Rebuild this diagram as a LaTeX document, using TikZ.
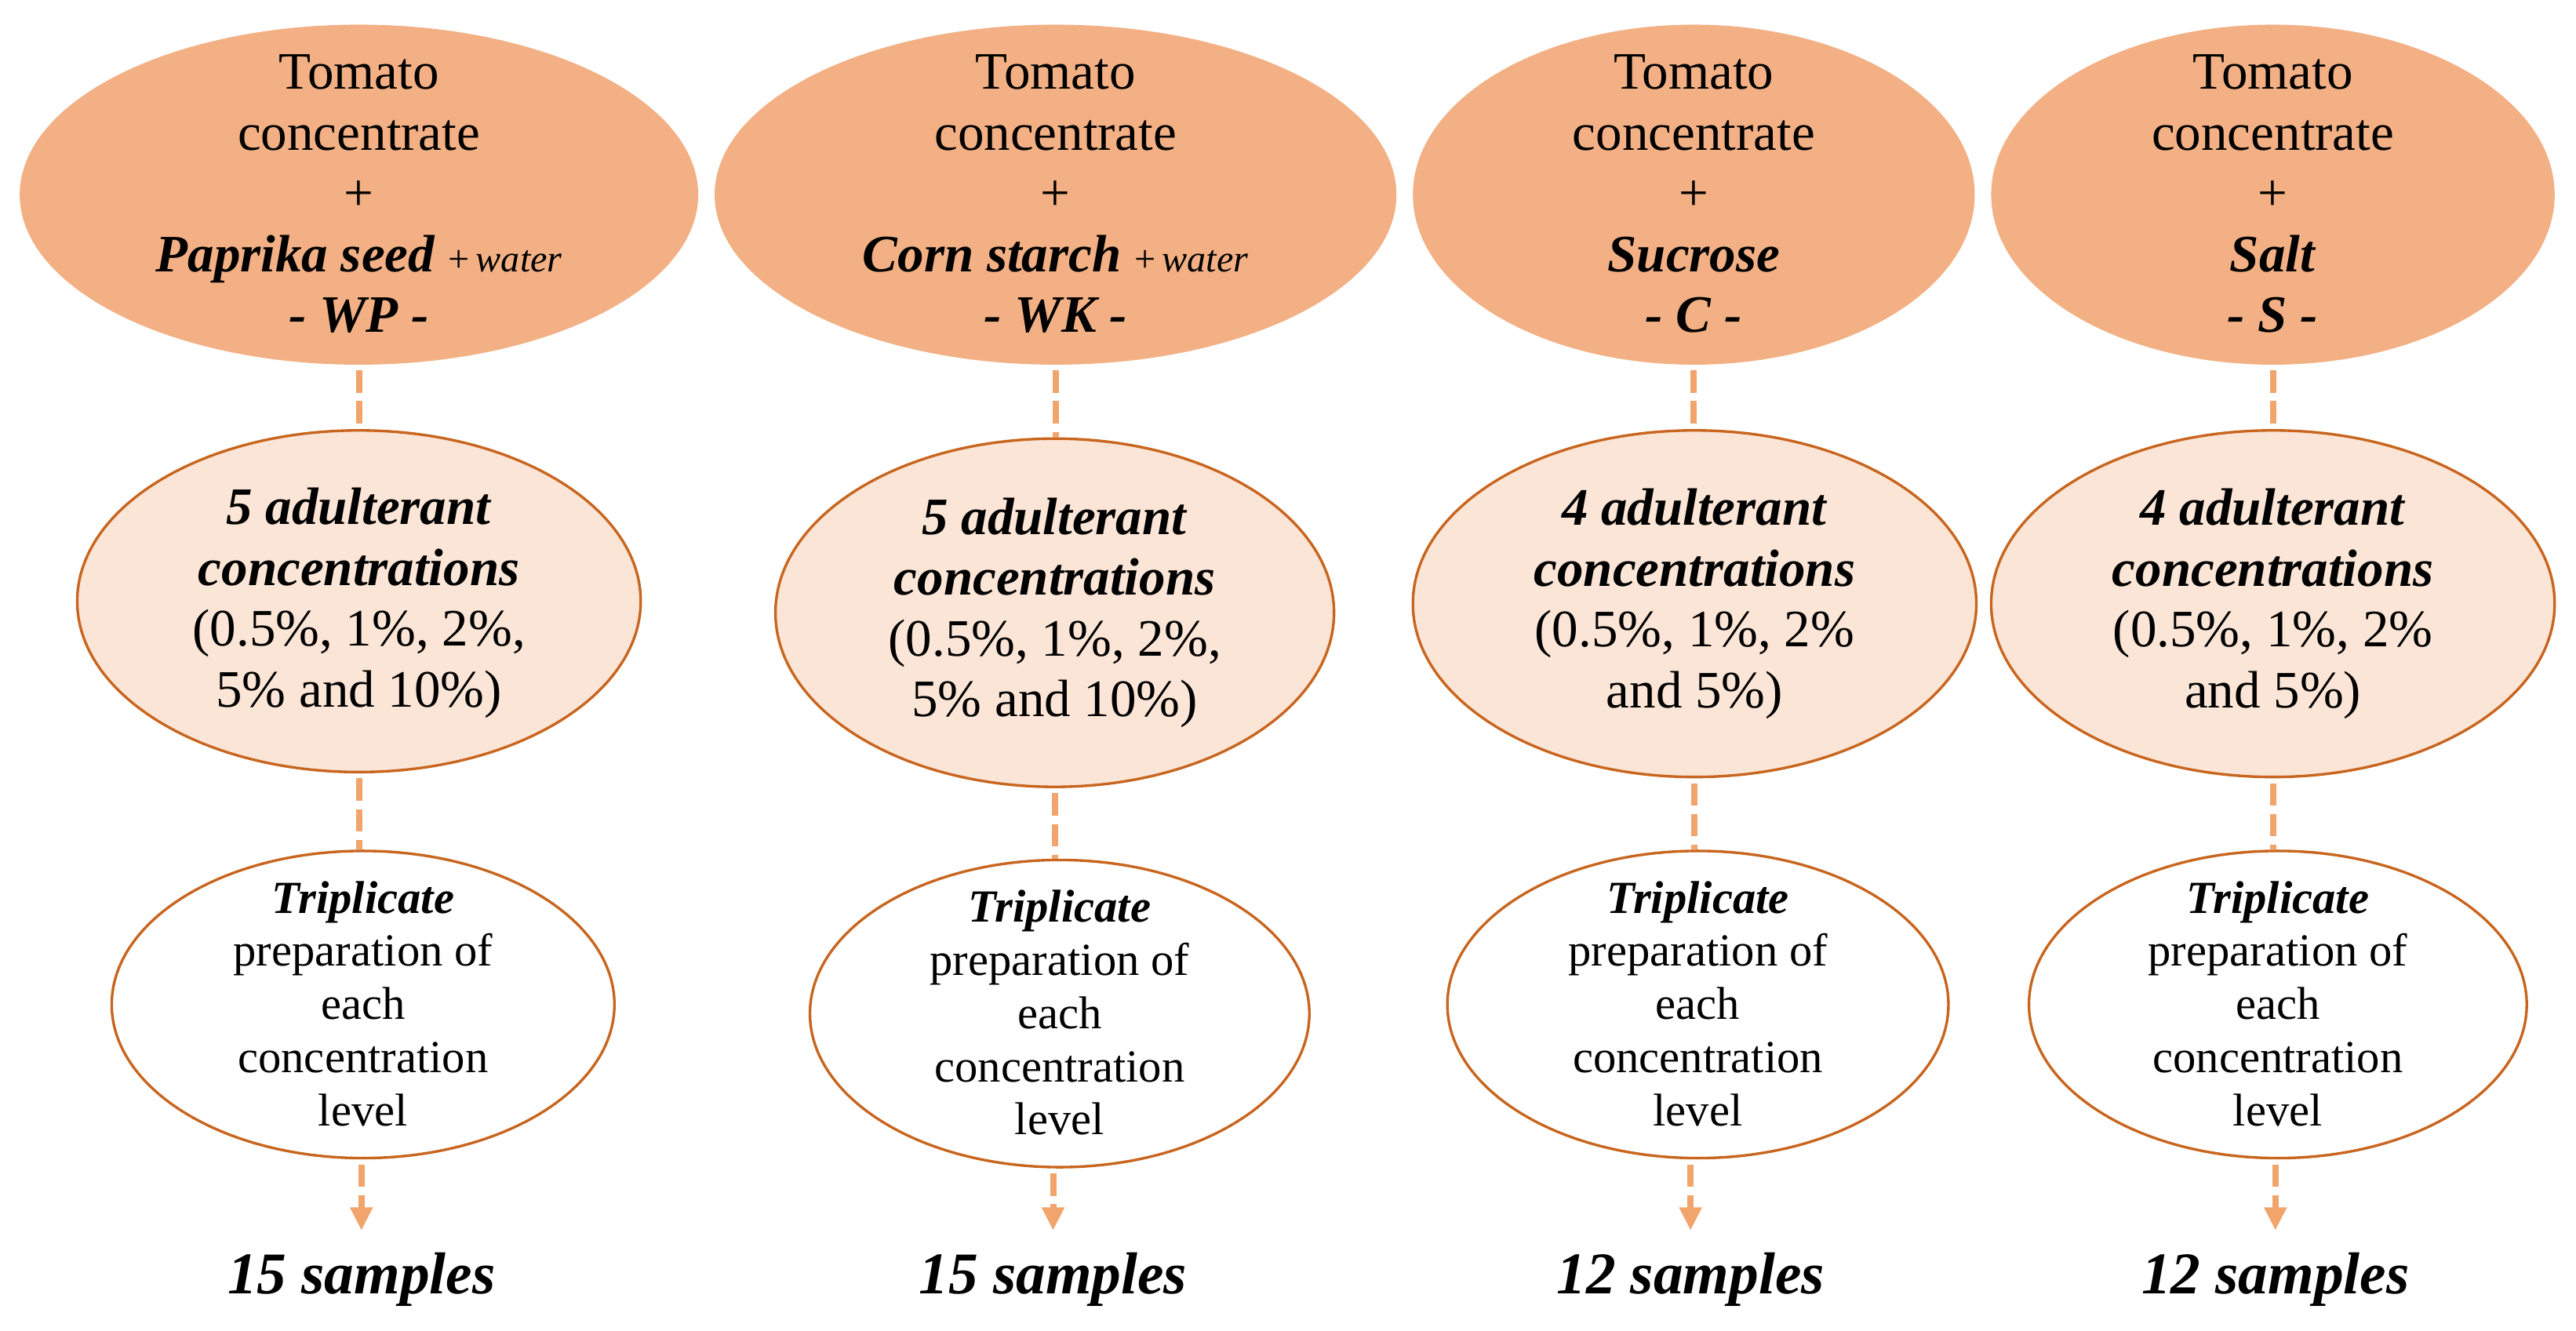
\documentclass[tikz,border=0pt]{standalone}
\usepackage{fontspec}
\setmainfont{Liberation Serif}
\usetikzlibrary{shapes.geometric,arrows.meta}
\definecolor{topfill}{HTML}{F2B084}
\definecolor{midfill}{HTML}{FBE5D6}
\definecolor{bord}{HTML}{C8651E}
\definecolor{linecol}{HTML}{F1A46C}
\tikzset{
  topell/.style={ellipse, fill=topfill, draw=none, inner sep=0pt},
  midell/.style={ellipse, fill=midfill, draw=bord, line width=0.8pt, inner sep=0pt},
  botell/.style={ellipse, fill=white, draw=bord, line width=0.8pt, inner sep=0pt},
  bigtxt/.style={align=center, inner sep=0pt, font=\fontsize{16}{18.5}\selectfont},
  smalltxt/.style={align=center, inner sep=0pt, font=\fontsize{14}{16.2}\selectfont},
  conn/.style={draw=linecol, line width=1.9pt, dash pattern=on 6.8pt off 2.6pt, shorten <=1.5pt},
  arr/.style={conn, -{Triangle[width=6.5pt,length=7pt]}},
  lab/.style={inner sep=0pt, font=\fontsize{18}{20}\selectfont\bfseries\itshape}
}
\newcommand{\bi}[1]{\textbf{\textit{#1}}}
\newcommand{\wat}{{\fontsize{11.5}{12}\selectfont +\,\textit{water}}}
\begin{document}
\begin{tikzpicture}[x=0.5pt,y=-0.5pt]
\useasboundingbox (0,0) rectangle (1568,810);
% top ellipses
\node[topell, minimum width=206.5pt, minimum height=103.5pt] (t1) at (218.5,118.5) {};
\node[topell, minimum width=207.5pt, minimum height=103.5pt] (t2) at (642.5,118.5) {};
\node[topell, minimum width=171pt, minimum height=103.5pt] (t3) at (1031,118.5) {};
\node[topell, minimum width=171.5pt, minimum height=103.5pt] (t4) at (1383.5,118.5) {};
\node[bigtxt] (tt1) at (218.5,118) {Tomato\\concentrate\\+\\\bi{Paprika seed} \wat\\\bi{- WP -}};
\node[bigtxt] (tt2) at (642.5,118) {Tomato\\concentrate\\+\\\bi{Corn starch} \wat\\\bi{- WK -}};
\node[bigtxt] (tt3) at (1031,118) {Tomato\\concentrate\\+\\\bi{Sucrose}\\\bi{- C -}};
\node[bigtxt] (tt4) at (1383.5,118) {Tomato\\concentrate\\+\\\bi{Salt}\\\bi{- S -}};
% middle ellipses
\node[midell, minimum width=171.5pt, minimum height=104pt] (m1) at (218.5,366) {};
\node[midell, minimum width=170pt, minimum height=106pt] (m2) at (642,373) {};
\node[midell, minimum width=171.5pt, minimum height=105.5pt] (m3) at (1031.5,367.5) {};
\node[midell, minimum width=171.5pt, minimum height=105.5pt] (m4) at (1383.5,367.5) {};
\node[bigtxt] (mt1) at (218.5,367) {\bi{5 adulterant}\\\bi{concentrations}\\(0.5\%, 1\%, 2\%,\\5\% and 10\%)};
\node[bigtxt] (mt2) at (642,373) {\bi{5 adulterant}\\\bi{concentrations}\\(0.5\%, 1\%, 2\%,\\5\% and 10\%)};
\node[bigtxt] (mt3) at (1031.5,367.5) {\bi{4 adulterant}\\\bi{concentrations}\\(0.5\%, 1\%, 2\%\\and 5\%)};
\node[bigtxt] (mt4) at (1383.5,367.5) {\bi{4 adulterant}\\\bi{concentrations}\\(0.5\%, 1\%, 2\%\\and 5\%)};
% bottom ellipses
\node[botell, minimum width=153pt, minimum height=93.5pt] (b1) at (221,611.5) {};
\node[botell, minimum width=152pt, minimum height=93.5pt] (b2) at (645,617) {};
\node[botell, minimum width=152.5pt, minimum height=93.5pt] (b3) at (1033.5,611.5) {};
\node[botell, minimum width=151.5pt, minimum height=93.5pt] (b4) at (1386.5,611.5) {};
\node[smalltxt] (bt1) at (221,611) {\bi{Triplicate}\\preparation of\\each\\concentration\\level};
\node[smalltxt] (bt2) at (645,616.5) {\bi{Triplicate}\\preparation of\\each\\concentration\\level};
\node[smalltxt] (bt3) at (1033.5,611) {\bi{Triplicate}\\preparation of\\each\\concentration\\level};
\node[smalltxt] (bt4) at (1386.5,611) {\bi{Triplicate}\\preparation of\\each\\concentration\\level};
% labels
\node[lab] (s1) at (220,779) {15 samples};
\node[lab] (s2) at (641,779) {15 samples};
\node[lab] (s3) at (1029,779) {12 samples};
\node[lab] (s4) at (1385,779) {12 samples};
\coordinate (a1) at (220,749);
\coordinate (a2) at (641,749);
\coordinate (a3) at (1029,749);
\coordinate (a4) at (1385,749);
% connectors
\foreach \i in {1,2,3,4}{
  \draw[conn] (t\i.south) -- (t\i.south |- m\i.north);
  \draw[conn] (m\i.south) -- (m\i.south |- b\i.north);
  \draw[arr] (a\i |- b\i.south) -- (a\i);
}
\end{tikzpicture}
\end{document}
